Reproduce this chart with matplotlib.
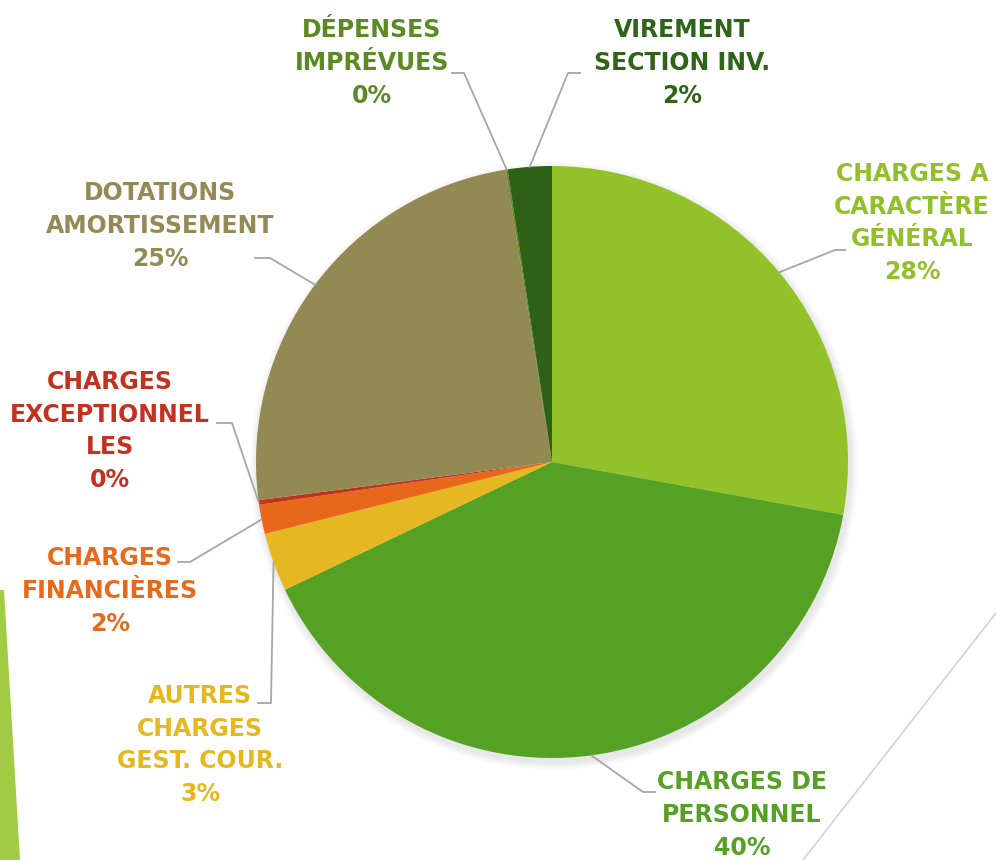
import numpy as np
import matplotlib
matplotlib.use("Agg")
import matplotlib.pyplot as plt
from matplotlib.patches import Polygon

# postes de dépenses (sens horaire depuis midi)
noms = ["CHARGES A\nCARACTÈRE\nGÉNÉRAL", "CHARGES DE\nPERSONNEL", "AUTRES\nCHARGES\nGEST. COUR.",
        "CHARGES\nFINANCIÈRES", "CHARGES\nEXCEPTIONNEL\nLES", "DOTATIONS\nAMORTISSEMENT",
        "DÉPENSES\nIMPRÉVUES", "VIREMENT\nSECTION INV."]
parts = [27.9, 40.1, 3.2, 1.6, 0.25, 24.6, 0.1, 2.4]
couleurs = ["#93C12A", "#55A124", "#E5B823", "#E8681B", "#C3311F", "#938953", "#5E8A25", "#2E6016"]
couleurs_txt = ["#92C02A", "#55A025", "#E6B820", "#E8691C", "#C3311F", "#938A55", "#5B8A23", "#2F6318"]

# mise en page des étiquettes (pixels) : centre du texte, coude de la ligne, bout de la ligne
pos_txt = [(912, 223), (742, 815), (200, 745), (110, 591), (110, 431), (160, 226), (372, 63), (682, 63)]
coude = [(835, 250), (643, 792), (271, 703), (190, 562), (232, 423), (270, 258), (464, 73), (568, 73)]
bout = [(845, 250), (655, 792), (258, 703), (178, 562), (217, 423), (255, 258), (452, 73), (580, 73)]

W, H = 996, 860
cx, cy, R = 552, H - 462, 296

fig = plt.figure(figsize=(9.96, 8.6), dpi=100)
ax = fig.add_axes([0, 0, 1, 1])

# décor de la diapo
ax.add_patch(Polygon([(0, H - 590), (4, H - 590), (20, 0), (0, 0)], closed=True, color="#A1CB45", lw=0))
ax.plot([996, 803], [H - 613, 0], color="#D3D3D3", lw=1.2)

# ombre légère
for k in range(8):
    ax.add_patch(plt.Circle((cx + 2, cy - 4), R + 1 + k, color="#000000", alpha=0.012, lw=0))

wedges, _ = ax.pie(parts, colors=couleurs, startangle=90, counterclock=False,
                   center=(cx, cy), radius=R, frame=True,
                   wedgeprops=dict(linewidth=0))
ax.set_xlim(0, W)
ax.set_ylim(0, H)
ax.set_aspect("auto")
ax.axis("off")

total = sum(parts)
for w, nom, v, ct, pt, cd, bt in zip(wedges, noms, parts, couleurs_txt, pos_txt, coude, bout):
    a = np.deg2rad((w.theta1 + w.theta2) / 2)
    x0, y0 = cx + R * np.cos(a), cy + R * np.sin(a)
    ax.plot([x0, cd[0], bt[0]], [y0, H - cd[1], H - bt[1]], color="#A6A6A6", lw=1.3)
    pct = round(v / total * 100)
    ax.text(pt[0], H - pt[1], f"{nom}\n{pct}%", color=ct, ha="center", va="center",
            fontsize=17, fontweight="bold", family="DejaVu Sans", linespacing=1.45)

fig.savefig("out.png", dpi=100)
